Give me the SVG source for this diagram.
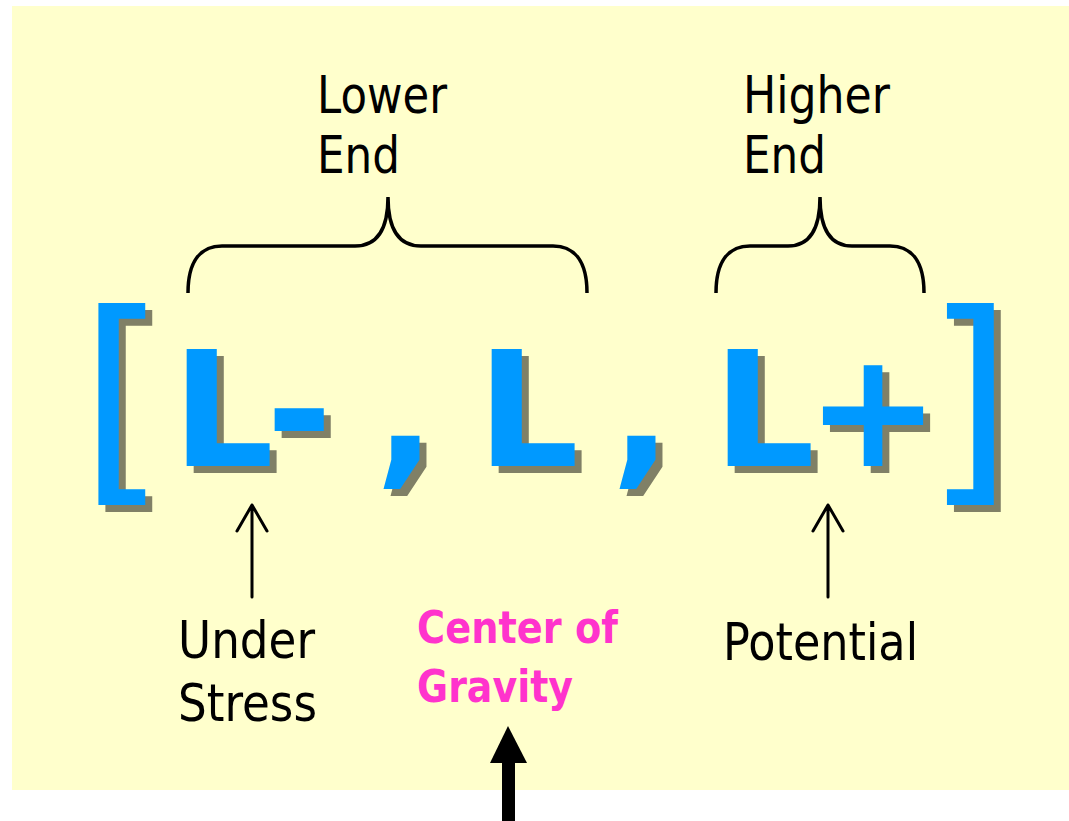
<svg xmlns="http://www.w3.org/2000/svg" xmlns:xlink="http://www.w3.org/1999/xlink" width="1069" height="821" viewBox="0 0 1069 821">
  <style>
    .big { font-family: "DejaVu Sans", sans-serif; font-weight: bold; font-size: 160px; }
    .brk { font-family: "DejaVu Sans", sans-serif; font-weight: normal; font-size: 226px; }
    .lbl { font-family: "DejaVu Sans", sans-serif; font-size: 52px; fill: #000000; }
    .pink { font-family: "DejaVu Sans", sans-serif; font-weight: bold; font-size: 45px; fill: #FF33CC; }
    .brace { fill: none; stroke: #000000; stroke-width: 3.5; stroke-linecap: butt; }
    .thin { fill: none; stroke: #000000; stroke-width: 3; stroke-linecap: round; stroke-linejoin: round; }
  </style>
  <defs>
    <g id="glyphs">
      <text class="brk" x="79" y="475">[</text>
      <text class="big" x="172" y="466">L</text>
      <text class="big" x="266" y="466">-</text>
      <text class="big" x="375" y="466">,</text>
      <text class="big" x="477" y="466">L</text>
      <text class="big" x="611" y="466">,</text>
      <text class="big" x="713" y="466">L</text>
      <text class="big" x="806" y="466">+</text>
      <text class="brk" x="925" y="475">]</text>
    </g>
  </defs>
  <rect id="background" x="12" y="6" width="1057" height="784" fill="#FFFFCC"/>
  <g id="expression">
    <use xlink:href="#glyphs" href="#glyphs" transform="translate(7,7)" fill="#808066"/>
    <use xlink:href="#glyphs" href="#glyphs" fill="#0099FF"/>
  </g>
  <g id="lower-end">
    <text class="lbl" x="317" y="113" textLength="130" lengthAdjust="spacingAndGlyphs">Lower</text>
    <text class="lbl" x="317" y="173" textLength="83" lengthAdjust="spacingAndGlyphs">End</text>
  </g>
  <g id="higher-end">
    <text class="lbl" x="743" y="113" textLength="147" lengthAdjust="spacingAndGlyphs">Higher</text>
    <text class="lbl" x="743" y="173" textLength="83" lengthAdjust="spacingAndGlyphs">End</text>
  </g>
  <g id="under-stress">
    <text class="lbl" x="178" y="658" textLength="137" lengthAdjust="spacingAndGlyphs">Under</text>
    <text class="lbl" x="178" y="721" textLength="139" lengthAdjust="spacingAndGlyphs">Stress</text>
  </g>
  <g id="potential">
    <text class="lbl" x="723" y="660" textLength="195" lengthAdjust="spacingAndGlyphs">Potential</text>
  </g>
  <g id="center-of-gravity">
    <text class="pink" x="417" y="643" textLength="201" lengthAdjust="spacingAndGlyphs">Center of</text>
    <text class="pink" x="417" y="702" textLength="156" lengthAdjust="spacingAndGlyphs">Gravity</text>
  </g>
  <g id="connectors">
    <path class="brace" d="M188,293 C188,262 200,246 222,246 L355,246 C375,246 388,232 388,197 C388,232 401,246 421,246 L553,246 C575,246 587,262 587,293"/>
    <path class="brace" d="M716,293 C716,262 728,246 750,246 L788,246 C808,246 820,232 820,197 C820,232 832,246 852,246 L890,246 C912,246 924,262 924,293"/>
    <path class="thin" d="M252,597 L252,505 M237,531 L252,505 L267,531"/>
    <path class="thin" d="M828,597 L828,505 M813,531 L828,505 L843,531"/>
    <rect x="502" y="760" width="13" height="61" fill="#000000"/>
    <polygon points="508,726 527,763 490,763" fill="#000000"/>
  </g>
</svg>
